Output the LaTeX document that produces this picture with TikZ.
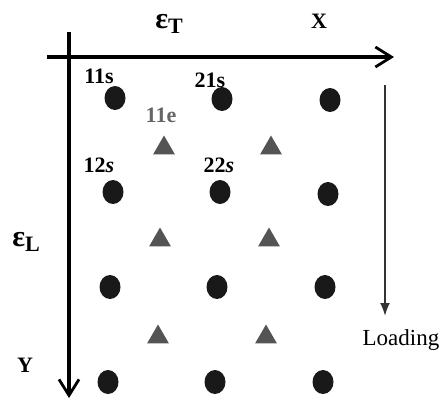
\documentclass[tikz,border=0pt]{standalone}
\usepackage{fontspec}
\setmainfont{Liberation Serif}
\usetikzlibrary{arrows.meta, shapes.geometric}

\begin{document}
\begin{tikzpicture}[
    x=0.5pt, y=-0.5pt,
    dot/.style={ellipse, fill=black!90, inner sep=0pt,
                minimum width=10.5pt, minimum height=12pt},
    tri/.style={regular polygon, regular polygon sides=3, fill=black!67,
                inner sep=0pt, minimum size=12.5pt},
    lbl/.style={font=\fontsize{11}{13}\selectfont\bfseries, inner sep=0pt},
    eps/.style={font=\fontsize{15}{15}\selectfont\bfseries, inner sep=0pt},
    axis/.style={-{Straight Barb[length=8pt, width=10pt, line width=1.4pt]},
                 line width=1.7pt},
    load/.style={-{Latex[length=6.5pt, width=5pt]}, line width=1pt, black!80},
  ]
  \useasboundingbox (0,0) rectangle (442,401);

  % Axes
  \coordinate (xstart) at (47,57);
  \coordinate (xend) at (394,57);
  \coordinate (ystart) at (69,32);
  \coordinate (yend) at (69,398);
  \draw[axis] (xstart) -- (xend);
  \draw[axis] (ystart) -- (yend);

  % Loading arrow
  \coordinate (loadtop) at (385,85);
  \coordinate (loadend) at (385,316);
  \draw[load] (loadtop) -- (loadend);
  \node[font=\fontsize{11.5}{13}\selectfont, inner sep=0pt] (loading) at (401,340) {Loading};

  % Axis labels
  \node[eps] (epsT) at (169,24) {ε\raisebox{-0.4ex}{\fontsize{11}{11}\selectfont T}};
  \node[lbl] (xlab) at (319,21) {X};
  \node[eps] (epsL) at (26,242) {ε\raisebox{-0.4ex}{\fontsize{11}{11}\selectfont L}};
  \node[lbl] (ylab) at (25,365) {Y};

  % Row 1
  \node[dot] (s11) at (115,98) {};
  \node[dot] (s21) at (222,99) {};
  \node[dot] (s31) at (330,100) {};
  % Row 2
  \node[dot] (s12) at (113,192) {};
  \node[dot] (s22) at (220,192) {};
  \node[dot] (s32) at (328,194) {};
  % Row 3
  \node[dot] (s13) at (110,287) {};
  \node[dot] (s23) at (217,287) {};
  \node[dot] (s33) at (325,287) {};
  % Row 4
  \node[dot] (s14) at (108,382) {};
  \node[dot] (s24) at (215,382) {};
  \node[dot] (s34) at (323,382) {};

  % Triangles
  \node[tri] (e11) at (164,148) {};
  \node[tri] (e21) at (271,148) {};
  \node[tri] (e12) at (160,240) {};
  \node[tri] (e22) at (269,240) {};
  \node[tri] (e13) at (158,337) {};
  \node[tri] (e23) at (266,337) {};

  % Point labels
  \node[lbl] (l11s) at (99,76) {11s};
  \node[lbl] (l21s) at (210,80) {21s};
  \node[lbl, black!60] (l11e) at (161,115) {11e};
  \node[lbl] (l12s) at (99,165) {12\textit{s}};
  \node[lbl] (l22s) at (219,165) {22\textit{s}};
\end{tikzpicture}
\end{document}
